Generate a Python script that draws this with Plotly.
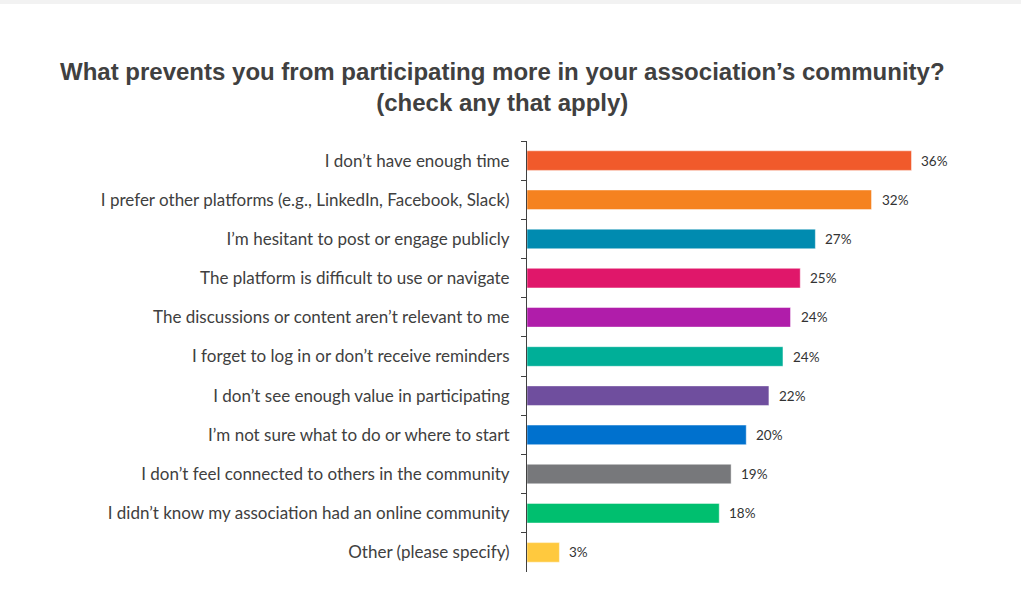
import plotly.graph_objects as go

# Survey responses (share of respondents, %)
reasons = [
    "I don\u2019t have enough time",
    "I prefer other platforms (e.g., LinkedIn, Facebook, Slack)",
    "I\u2019m hesitant to post or engage publicly",
    "The platform is difficult to use or navigate",
    "The discussions or content aren\u2019t relevant to me",
    "I forget to log in or don\u2019t receive reminders",
    "I don\u2019t see enough value in participating",
    "I\u2019m not sure what to do or where to start",
    "I don\u2019t feel connected to others in the community",
    "I didn\u2019t know my association had an online community",
    "Other (please specify)",
]
shares = [35.6, 31.9, 26.7, 25.3, 24.4, 23.7, 22.4, 20.3, 18.9, 17.8, 3.0]
bar_colors = [
    "#F15A2B", "#F58220", "#008BB0", "#E0176A", "#B01DAA", "#00AF98",
    "#6F4E9E", "#0071CE", "#77787B", "#00BF6F", "#FFC93E",
]

W, H = 1021, 616
M_L, M_R, M_T, M_B = 527, 62, 141, 44

fig = go.Figure(
    go.Bar(
        x=shares,
        y=reasons,
        orientation="h",
        width=0.5,
        marker=dict(color=bar_colors, line=dict(color="rgba(255,255,255,0.45)", width=1)),
        hoverinfo="skip",
    )
)

# Value labels just past each bar end
for reason, share in zip(reasons, shares):
    fig.add_annotation(
        x=share,
        y=reason,
        xref="x",
        yref="y",
        text=f"{share:.0f}%",
        showarrow=False,
        xanchor="left",
        yanchor="middle",
        xshift=8,
        font=dict(family="Lato", size=13.5, color="#333333"),
    )

fig.update_layout(
    width=W,
    height=H,
    margin=dict(l=M_L, r=M_R, t=M_T, b=M_B, pad=0),
    paper_bgcolor="white",
    plot_bgcolor="white",
    showlegend=False,
)

fig.update_xaxes(
    range=[0, 40],
    visible=False,
    showgrid=False,
    zeroline=False,
)
fig.update_yaxes(
    autorange="reversed",
    tickson="boundaries",
    ticks="outside",
    ticklen=5,
    tickwidth=1,
    tickcolor="#404040",
    showline=True,
    linecolor="#404040",
    linewidth=1,
    showgrid=False,
    ticklabelstandoff=13,
    tickfont=dict(family="Lato", size=17, color="#404040"),
)

# Title, two centered lines
fig.add_annotation(
    text="What prevents you from participating more in your association\u2019s community?<br>(check any that apply)",
    xref="paper",
    yref="paper",
    x=(502 - M_L) / (W - M_L - M_R),
    y=1 + (M_T - 56) / (H - M_T - M_B),
    xanchor="center",
    yanchor="top",
    showarrow=False,
    align="center",
    font=dict(family="Liberation Sans", size=24, color="#404040", weight="bold"),
)

# Thin gray strip along the top edge
ph = H - M_T - M_B
pw = W - M_L - M_R
fig.add_shape(
    type="rect",
    xref="paper",
    yref="paper",
    x0=-M_L / pw,
    x1=1 + M_R / pw,
    y0=1 + (M_T - 4) / ph,
    y1=1 + M_T / ph,
    fillcolor="#F2F2F2",
    line=dict(width=0),
    layer="below",
)

fig.write_html("out.html")
